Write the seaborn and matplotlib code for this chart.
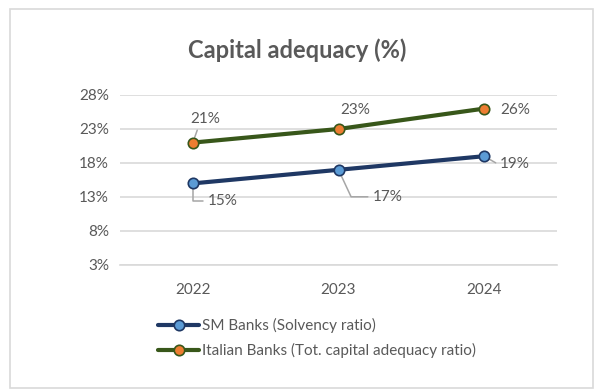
import matplotlib
matplotlib.use("Agg")
import matplotlib.pyplot as plt
from matplotlib.patches import Rectangle
from matplotlib.lines import Line2D
import seaborn as sns
import pandas as pd

years = ["2022", "2023", "2024"]
sm_banks = [15, 17, 19]
italian_banks = [21, 23, 26]
series_names = ["SM Banks (Solvency ratio)",
                "Italian Banks (Tot. capital adequacy ratio)"]
y_ticks = [3, 8, 13, 18, 23, 28]

sns.set_theme(style="white")
plt.rcParams["font.family"] = ["Lato", "DejaVu Sans"]

TEXT = "#595959"
GRID = "#D9D9D9"
line_colors = ["#1F3864", "#38571A"]
marker_fills = ["#5B9BD5", "#ED7D31"]
FS = 11

df = pd.DataFrame({
    "year": years * 2,
    "value": sm_banks + italian_banks,
    "series": [series_names[0]] * 3 + [series_names[1]] * 3,
})

fig = plt.figure(figsize=(5.94, 3.90), dpi=100)
ax = fig.add_axes([120 / 594, 1 - 265 / 390, (557 - 120) / 594, (265 - 95) / 390])

# outer chart frame
fig.patches.append(Rectangle((10 / 594, 2 / 390), 583 / 594, 379 / 390,
                             transform=fig.transFigure, fill=False,
                             edgecolor=GRID, lw=1.2))

sns.lineplot(data=df, x="year", y="value", hue="series",
             palette=line_colors, lw=3, sort=False, legend=False, ax=ax)
for i, (name, fill) in enumerate(zip(series_names, marker_fills)):
    sub = df[df["series"] == name]
    ax.plot(sub["year"], sub["value"], ls="none", marker="o", ms=7.5,
            mfc=fill, mec=line_colors[i], mew=1.2, zorder=5)

ax.set_xlim(-0.5, 2.5)
ax.set_ylim(3, 28)
ax.set_yticks(y_ticks)
ax.set_yticklabels([f"{t}%" for t in y_ticks])
ax.yaxis.grid(True, color=GRID, lw=1.2)
ax.set_axisbelow(True)
for s in ax.spines.values():
    s.set_visible(False)
ax.spines["bottom"].set_visible(True)
ax.spines["bottom"].set_color(GRID)
ax.spines["bottom"].set_linewidth(1.2)
ax.tick_params(axis="both", length=0, labelsize=FS, labelcolor=TEXT)
ax.tick_params(axis="x", pad=13)
ax.tick_params(axis="y", pad=8)
ax.set_xlabel("")
ax.set_ylabel("")

fig.text(297 / 594, 1 - 50 / 390, "Capital adequacy (%)", ha="center",
         va="center", fontsize=17, fontweight="bold", color=TEXT)

leader = dict(arrowstyle="-", color="#A6A6A6", lw=1.1, shrinkA=1, shrinkB=4)
lab = dict(textcoords="offset pixels", fontsize=FS, color=TEXT, va="center")

# data labels for the Italian banks series
ax.annotate(f"{italian_banks[0]}%", xy=(0, italian_banks[0]), xytext=(12, 24),
            ha="center", arrowprops=dict(leader, relpos=(0.3, 0.0)), **lab)
ax.annotate(f"{italian_banks[1]}%", xy=(1, italian_banks[1]), xytext=(17, 19),
            ha="center", **lab)
ax.annotate(f"{italian_banks[2]}%", xy=(2, italian_banks[2]), xytext=(16, -1),
            ha="left", **lab)

# data labels for the SM banks series
ax.annotate(f"{sm_banks[0]}%", xy=(0, sm_banks[0]), xytext=(15, -18),
            ha="left", arrowprops=dict(leader, relpos=(0, 0.5),
            connectionstyle="angle,angleA=0,angleB=90,rad=0"), **lab)
ax.annotate(f"{sm_banks[1]}%", xy=(1, sm_banks[1]), xytext=(34, -27),
            ha="left", arrowprops=dict(leader, relpos=(0, 0.5),
            connectionstyle="angle,angleA=0,angleB=115,rad=0"), **lab)
ax.annotate(f"{sm_banks[2]}%", xy=(2, sm_banks[2]), xytext=(16, -8),
            ha="left", arrowprops=dict(leader, relpos=(0, 0.5),
            connectionstyle="angle,angleA=0,angleB=150,rad=0"), **lab)

handles = [Line2D([], [], color=c, lw=3, marker="o", ms=7.5, mfc=f, mec=c, mew=1.2)
           for c, f in zip(line_colors, marker_fills)]
fig.legend(handles, series_names, loc="upper left",
           bbox_to_anchor=(152 / 594, 1 - 312 / 390), frameon=False,
           fontsize=FS, labelcolor=TEXT, handlelength=2.7, handletextpad=0.15,
           labelspacing=0.65, borderaxespad=0)

fig.savefig("out.png", dpi=100, facecolor="white")
